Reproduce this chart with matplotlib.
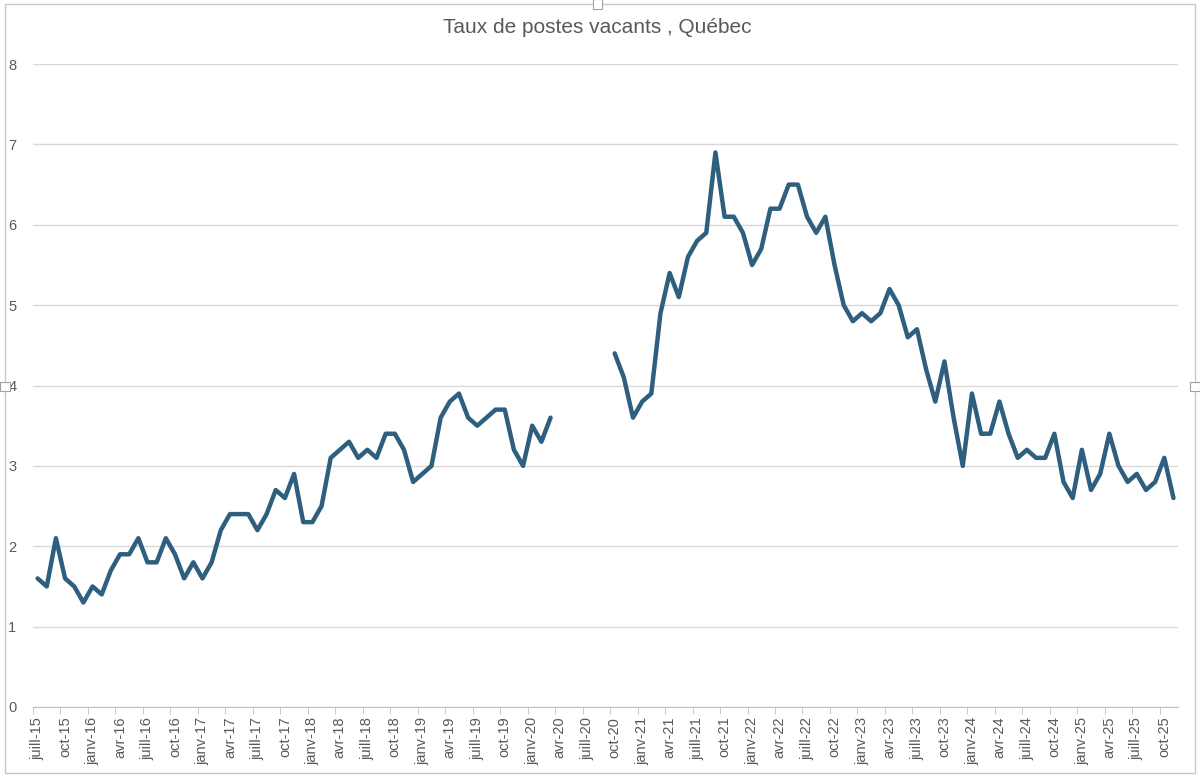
import numpy as np
import matplotlib
matplotlib.use("Agg")
import matplotlib.pyplot as plt
from matplotlib.patches import Rectangle

# taux de postes vacants, Québec (mensuel, juill. 2015 - nov. 2025)
y2015 = [1.6, 1.5, 2.1, 1.6, 1.5, 1.3]  # juill -> déc
y2016 = [1.5, 1.4, 1.7, 1.9, 1.9, 2.1, 1.8, 1.8, 2.1, 1.9, 1.6, 1.8]
y2017 = [1.6, 1.8, 2.2, 2.4, 2.4, 2.4, 2.2, 2.4, 2.7, 2.6, 2.9, 2.3]
y2018 = [2.3, 2.5, 3.1, 3.2, 3.3, 3.1, 3.2, 3.1, 3.4, 3.4, 3.2, 2.8]
y2019 = [2.9, 3.0, 3.6, 3.8, 3.9, 3.6, 3.5, 3.6, 3.7, 3.7, 3.2, 3.0]
y2020 = [3.5, 3.3, 3.6, None, None, None, None, None, None, 4.4, 4.1, 3.6]
y2021 = [3.8, 3.9, 4.9, 5.4, 5.1, 5.6, 5.8, 5.9, 6.9, 6.1, 6.1, 5.9]
y2022 = [5.5, 5.7, 6.2, 6.2, 6.5, 6.5, 6.1, 5.9, 6.1, 5.5, 5.0, 4.8]
y2023 = [4.9, 4.8, 4.9, 5.2, 5.0, 4.6, 4.7, 4.2, 3.8, 4.3, 3.6, 3.0]
y2024 = [3.9, 3.4, 3.4, 3.8, 3.4, 3.1, 3.2, 3.1, 3.1, 3.4, 2.8, 2.6]
y2025 = [3.2, 2.7, 2.9, 3.4, 3.0, 2.8, 2.9, 2.7, 2.8, 3.1, 2.6]  # janv -> nov

mois = ["janv", "févr", "mars", "avr", "mai", "juin",
        "juill", "août", "sept", "oct", "nov", "déc"]

values = y2015 + y2016 + y2017 + y2018 + y2019 + y2020 + y2021 + y2022 + y2023 + y2024 + y2025
values = np.array([np.nan if v is None else v for v in values], dtype=float)

labels = []
m, yr = 6, 15
for _ in range(len(values)):
    labels.append(f"{mois[m]}-{yr:02d}")
    m += 1
    if m == 12:
        m, yr = 0, yr + 1

x = np.arange(len(values))

plt.rcParams["font.family"] = ["Liberation Sans", "DejaVu Sans"]
fig = plt.figure(figsize=(12, 7.77), dpi=100)
ax = fig.add_axes([0.0275, 0.0901, 0.9542, 0.8275])

ax.plot(x, values, color="#2e5f7e", lw=3.2, solid_joinstyle="round", solid_capstyle="round")

ax.set_xlim(-0.5, len(values) - 0.5)
ax.set_ylim(0, 8)
ax.set_yticks(range(0, 9))
ax.yaxis.grid(True, color="#d9d9d9", lw=1)
ax.set_axisbelow(True)

ax.set_xticks(x[::3])
ax.set_xticklabels(labels[::3], rotation=90, fontsize=10.5, color="#595959")
ax.set_xticks(np.arange(-0.5, len(values), 3), minor=True)
ax.tick_params(axis="x", which="major", length=0, pad=7)
ax.tick_params(axis="x", which="minor", length=5, color="#bfbfbf")
ax.tick_params(axis="y", length=0, labelsize=10.5, labelcolor="#595959", pad=12)

for s in ["top", "right", "left"]:
    ax.spines[s].set_visible(False)
ax.spines["bottom"].set_color("#bfbfbf")

fig.text(0.498, 0.965, "Taux de postes vacants , Québec", ha="center", va="center",
         fontsize=15, color="#595959")

# cadre du graphique
fig.patches.append(Rectangle((0.004, 0.005), 0.992, 0.99, transform=fig.transFigure,
                             fill=False, edgecolor="#c8c8c8", lw=1))
for hx, hy in [(0.498, 0.995), (0.004, 0.503), (0.996, 0.503)]:
    fig.patches.append(Rectangle((hx - 0.004, hy - 0.006), 0.008, 0.012, transform=fig.transFigure,
                                 facecolor="white", edgecolor="#a0a0a0", lw=0.8))

fig.savefig("out.png", dpi=100)
